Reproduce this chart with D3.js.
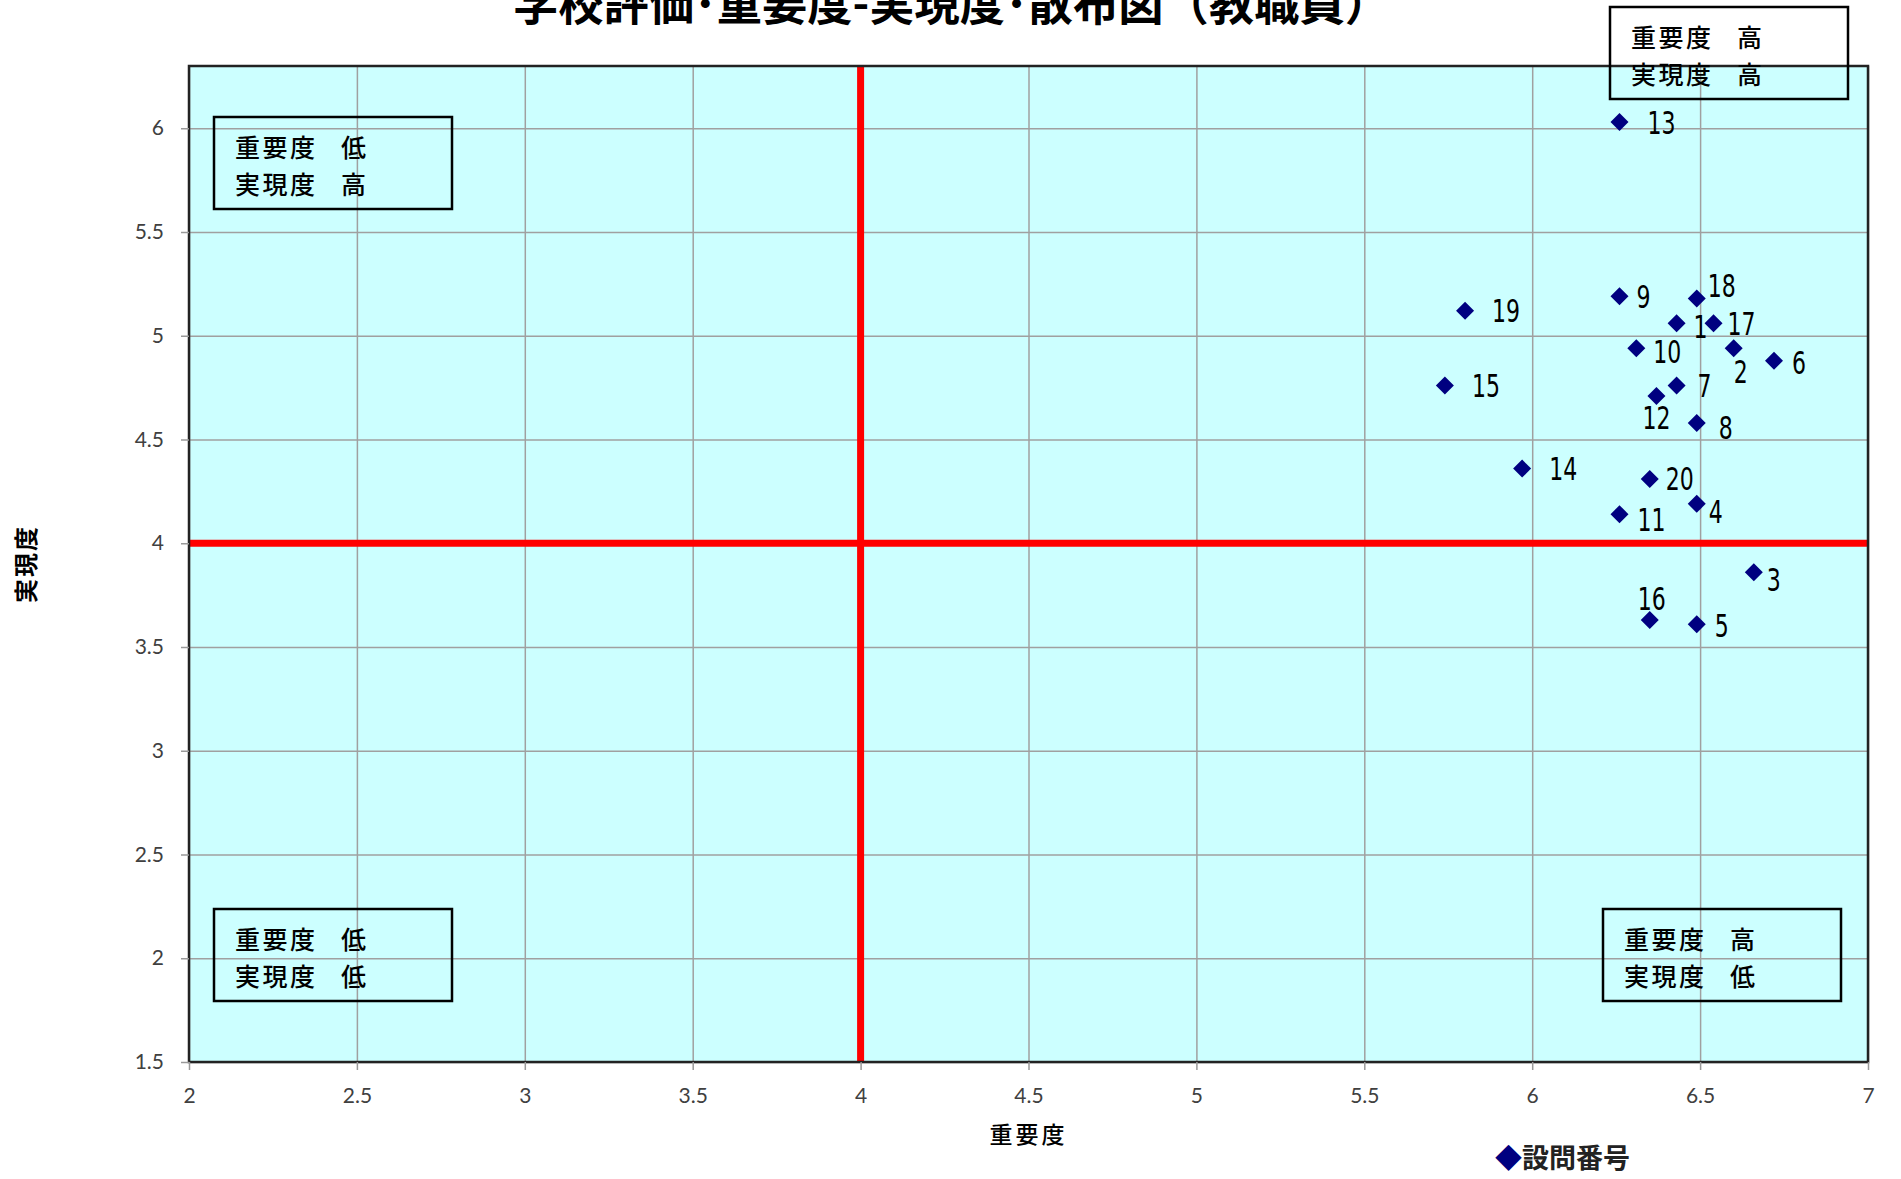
<!DOCTYPE html>
<html>
<head>
<meta charset="utf-8">
<script src="https://cdn.jsdelivr.net/npm/d3@7"></script>
<style>
  body { margin: 0; background: #fff; }
  svg { display: block; }
</style>
</head>
<body>
<div id="chart"></div>
<script>
// question numbers and their (importance, realisation) averages
var questionNo = [1, 2, 3, 4, 5, 6, 7, 8, 9, 10, 11, 12, 13, 14, 15, 16, 17, 18, 19, 20];
var importance = [6.43, 6.60, 6.66, 6.49, 6.49, 6.72, 6.43, 6.49, 6.26, 6.31, 6.26, 6.37, 6.26, 5.97, 5.74, 6.35, 6.54, 6.49, 5.80, 6.35];
var realisation = [5.06, 4.94, 3.86, 4.19, 3.61, 4.88, 4.76, 4.58, 5.19, 4.94, 4.14, 4.71, 6.03, 4.36, 4.76, 3.63, 5.06, 5.18, 5.12, 4.31];

var xTicks = [2, 2.5, 3, 3.5, 4, 4.5, 5, 5.5, 6, 6.5, 7];
var yTicks = [1.5, 2, 2.5, 3, 3.5, 4, 4.5, 5, 5.5, 6];
var xDomain = [2, 7];
var yDomain = [1.5, 6.3];
var midLine = [4, 4];   // red cross (x, y)

var titleText = "学校評価･重要度-実現度･散布図（教職員）";
var xTitle = "重要度";
var yTitle = "実現度";
var legendText = "設問番号";

// quadrant notes: [importance word, realisation word]
var quadrantWords = [["低", "高"], ["高", "高"], ["低", "低"], ["高", "低"]];

(function () {
  var W = 1901, H = 1179;
  var plot = { left: 189, right: 1868, top: 66, bottom: 1062 };

  var svg = d3.select("#chart").append("svg")
      .attr("width", W)
      .attr("height", H);

  var x = d3.scaleLinear().domain(xDomain).range([plot.left, plot.right]);
  var y = d3.scaleLinear().domain(yDomain).range([plot.bottom, plot.top]);

  // background
  svg.append("rect")
      .attr("x", plot.left).attr("y", plot.top)
      .attr("width", plot.right - plot.left)
      .attr("height", plot.bottom - plot.top)
      .attr("fill", "#ccffff");

  // gridlines
  svg.append("g")
      .attr("transform", `translate(0, ${plot.bottom})`)
      .call(d3.axisBottom(x).tickValues(xTicks).tickSize(-(plot.bottom - plot.top)).tickFormat(""))
      .call(g => g.select(".domain").remove())
      .selectAll("line").attr("stroke", "#a0a0a0").attr("stroke-width", 1.5);

  svg.append("g")
      .attr("transform", `translate(${plot.left}, 0)`)
      .call(d3.axisLeft(y).tickValues(yTicks).tickSize(-(plot.right - plot.left)).tickFormat(""))
      .call(g => g.select(".domain").remove())
      .selectAll("line").attr("stroke", "#a0a0a0").attr("stroke-width", 1.5);

  // red cross lines
  svg.append("line")
      .attr("x1", x(midLine[0])).attr("x2", x(midLine[0]))
      .attr("y1", plot.top).attr("y2", plot.bottom)
      .attr("stroke", "#ff0000").attr("stroke-width", 7);
  svg.append("line")
      .attr("x1", plot.left).attr("x2", plot.right)
      .attr("y1", y(midLine[1])).attr("y2", y(midLine[1]))
      .attr("stroke", "#ff0000").attr("stroke-width", 7);

  // plot border
  svg.append("rect")
      .attr("x", plot.left).attr("y", plot.top)
      .attr("width", plot.right - plot.left)
      .attr("height", plot.bottom - plot.top)
      .attr("fill", "none")
      .attr("stroke", "#222").attr("stroke-width", 2.5);

  // axes
  var xAxis = svg.append("g")
      .attr("transform", `translate(0, ${plot.bottom})`)
      .call(d3.axisBottom(x).tickValues(xTicks).tickSize(8).tickFormat(d3.format("")));
  xAxis.select(".domain").remove();
  xAxis.selectAll("line").attr("stroke", "#999").attr("stroke-width", 1.5);
  xAxis.selectAll("text")
      .attr("y", 34).attr("dy", "0.35em")
      .attr("fill", "#404040")
      .style("font", "21px Lato, 'Open Sans', sans-serif");

  var yAxis = svg.append("g")
      .attr("transform", `translate(${plot.left}, 0)`)
      .call(d3.axisLeft(y).tickValues(yTicks).tickSize(8).tickPadding(17).tickFormat(d3.format("")));
  yAxis.select(".domain").remove();
  yAxis.selectAll("line").attr("stroke", "#999").attr("stroke-width", 1.5);
  yAxis.selectAll("text")
      .attr("fill", "#404040")
      .style("font", "21px Lato, 'Open Sans', sans-serif");

  // titles
  svg.append("text")
      .attr("x", 513).attr("y", 20)
      .attr("textLength", 877).attr("lengthAdjust", "spacingAndGlyphs")
      .style("font", "bold 46px 'Noto Sans CJK JP', sans-serif")
      .text(titleText);

  svg.append("text")
      .attr("x", (plot.left + plot.right) / 2).attr("y", 1135)
      .attr("dy", "0.35em").attr("text-anchor", "middle")
      .attr("letter-spacing", 3)
      .style("font", "500 23px 'Noto Sans CJK JP', sans-serif")
      .text(xTitle);

  svg.append("text")
      .attr("transform", `translate(27, ${(plot.top + plot.bottom) / 2}) rotate(-90)`)
      .attr("dy", "0.35em").attr("text-anchor", "middle")
      .attr("letter-spacing", 2)
      .style("font", "bold 24px 'Noto Sans CJK JP', sans-serif")
      .text(yTitle);

  // quadrant note boxes (pixel layout as in the original sheet)
  var boxPos = [[214, 117], [1610, 7], [214, 909], [1603, 909]];
  quadrantWords.forEach(function (w, i) {
    var g = svg.append("g").attr("transform", `translate(${boxPos[i][0]}, ${boxPos[i][1]})`);
    g.append("rect")
        .attr("width", 238).attr("height", 92)
        .attr("fill", "none").attr("stroke", "#000").attr("stroke-width", 2.5);
    [["重要度", w[0]], ["実現度", w[1]]].forEach(function (line, j) {
      var t = g.append("text")
          .attr("y", 31 + j * 37).attr("dy", "0.35em")
          .style("font", "500 25px 'Noto Sans CJK JP', sans-serif");
      t.append("tspan").attr("x", 21).attr("letter-spacing", 2.5).text(line[0]);
      t.append("tspan").attr("x", 127).text(line[1]);
    });
  });

  // points
  var points = questionNo.map((q, i) => ({ q: q, x: importance[i], y: realisation[i] }));

  // label nudges in px: [dx, dy, anchor]
  var nudge = {
    1: [17, 3], 2: [7, 23, "middle"], 3: [13, 7], 4: [12, 8], 5: [18, 1],
    6: [18, 2], 7: [21, 0], 8: [22, 5], 9: [17, 0], 10: [17, 3],
    11: [18, 5], 12: [0, 22, "middle"], 13: [28, 0], 14: [27, 0], 15: [27, 0],
    16: [2, -22, "middle"], 17: [14, 0], 18: [11, -13], 19: [27, 0], 20: [16, 0]
  };

  var diamond = d3.symbol().type(d3.symbolSquare).size(162);

  svg.append("g").selectAll("path")
      .data(points)
      .join("path")
      .attr("d", diamond)
      .attr("transform", d => `translate(${x(d.x)}, ${y(d.y)}) rotate(45)`)
      .attr("fill", "#000080");

  // narrow digits, like the sheet's label font
  svg.append("g").selectAll("text")
      .data(points)
      .join("text")
      .attr("x", d => x(d.x) + nudge[d.q][0])
      .attr("y", d => y(d.y) + nudge[d.q][1])
      .attr("dy", "0.36em")
      .attr("text-anchor", d => nudge[d.q][2] || "start")
      .attr("textLength", d => String(d.q).length * 14)
      .attr("lengthAdjust", "spacingAndGlyphs")
      .style("font", "32px 'Liberation Sans Narrow', 'DejaVu Sans Condensed', sans-serif")
      .attr("fill", "#000")
      .text(d => d.q);

  // legend
  var leg = svg.append("text")
      .attr("x", 1495).attr("y", 1158).attr("dy", "0.36em")
      .style("font", "bold 27px 'Noto Sans CJK JP', sans-serif");
  leg.append("tspan").attr("fill", "#000080").text("◆");
  leg.append("tspan").attr("fill", "#222").text(legendText);
})();
</script>
</body>
</html>
